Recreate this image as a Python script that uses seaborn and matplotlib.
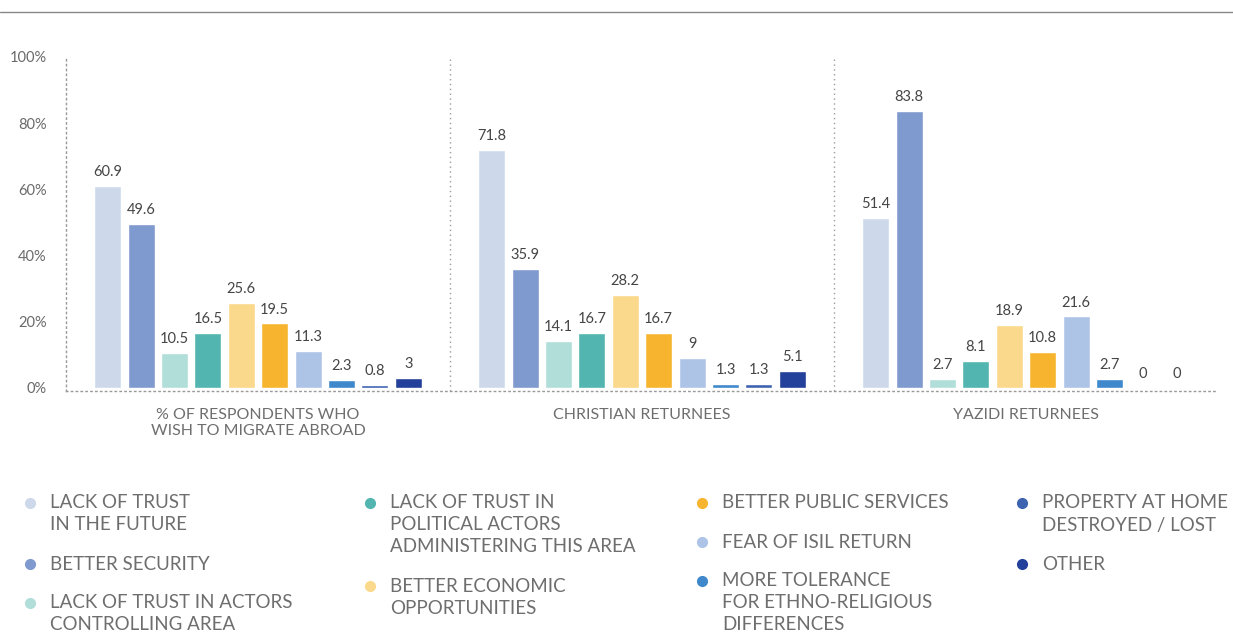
import matplotlib
matplotlib.use('Agg')
import matplotlib.pyplot as plt
from matplotlib.lines import Line2D
import seaborn as sns
import pandas as pd

groups = ['% OF RESPONDENTS WHO\nWISH TO MIGRATE ABROAD', 'CHRISTIAN RETURNEES', 'YAZIDI RETURNEES']
reasons = [
    'LACK OF TRUST\nIN THE FUTURE',
    'BETTER SECURITY',
    'LACK OF TRUST IN ACTORS\nCONTROLLING AREA',
    'LACK OF TRUST IN\nPOLITICAL ACTORS\nADMINISTERING THIS AREA',
    'BETTER ECONOMIC\nOPPORTUNITIES',
    'BETTER PUBLIC SERVICES',
    'FEAR OF ISIL RETURN',
    'MORE TOLERANCE\nFOR ETHNO-RELIGIOUS\nDIFFERENCES',
    'PROPERTY AT HOME\nDESTROYED / LOST',
    'OTHER',
]
all_respondents = [60.9, 49.6, 10.5, 16.5, 25.6, 19.5, 11.3, 2.3, 0.8, 3]
christian = [71.8, 35.9, 14.1, 16.7, 28.2, 16.7, 9, 1.3, 1.3, 5.1]
yazidi = [51.4, 83.8, 2.7, 8.1, 18.9, 10.8, 21.6, 2.7, 0, 0]
colors = ['#cdd9ea', '#7f9acf', '#b1ded9', '#52b5b0', '#fbd98c',
          '#f7b52f', '#adc4e6', '#3f88cb', '#3d62b0', '#23409a']
# legend column layout as in the report
legend_cols = [[0, 1, 2], [3, 4], [5, 6, 7], [8, 9]]

rows = []
for g, vals in zip(groups, [all_respondents, christian, yazidi]):
    for r, v in zip(reasons, vals):
        rows.append({'group': g, 'reason': r, 'value': v})
df = pd.DataFrame(rows)

sns.set_style('white')
plt.rcParams['font.family'] = ['Lato', 'DejaVu Sans']

W, H = 1233, 633
fig = plt.figure(figsize=(W / 100, H / 100), dpi=100)
ax = fig.add_axes([66 / W, 241.7 / H, 1152 / W, 334.3 / H])

sns.barplot(data=df, x='group', y='value', hue='reason', order=groups, hue_order=reasons,
            palette=colors, width=0.87, gap=0.19, saturation=1, legend=False, ax=ax)

for c in ax.containers:
    ax.bar_label(c, fmt='{:g}', padding=5, fontsize=10.5, color='#454545')

ax.set_xlim(-0.5, 2.5)
ax.set_ylim(-1, 100)
ax.set_yticks([0, 20, 40, 60, 80, 100])
ax.set_yticklabels(['0%', '20%', '40%', '60%', '80%', '100%'])
ax.tick_params(axis='y', length=0, pad=14, labelsize=10.5, labelcolor='#6a6a6a')
ax.tick_params(axis='x', length=0, pad=12, labelsize=11.5, labelcolor='#6e6e6e')
ax.set_xlabel('')
ax.set_ylabel('')

dots = (0, (1, 2.5))
for side in ['top', 'right']:
    ax.spines[side].set_visible(False)
for side in ['left', 'bottom']:
    ax.spines[side].set_linestyle(dots)
    ax.spines[side].set_color('#999999')
    ax.spines[side].set_linewidth(1)
ax.vlines([0.5, 1.5], -1, 100, linestyles=[dots], colors='#999999', linewidth=1)

# top rule
fig.add_artist(Line2D([0, 1], [1 - 12 / H, 1 - 12 / H], transform=fig.transFigure,
                      color='#888888', linewidth=1))

# legend drawn by hand so the bullet sits on the first line of each label
col_x = [30, 370, 702, 1022]
line_h, entry_gap, y0 = 22, 17, 503
for x, idxs in zip(col_x, legend_cols):
    y = y0
    for i in idxs:
        fig.add_artist(Line2D([x / W], [1 - y / H], transform=fig.transFigure, marker='o',
                              markersize=7, color=colors[i], linestyle=''))
        lines = reasons[i].split('\n')
        for k, line in enumerate(lines):
            fig.text((x + 20) / W, 1 - (y + k * line_h) / H, line, va='center', ha='left',
                     fontsize=13.5, color='#6e6e6e')
        y += len(lines) * line_h + entry_gap

fig.savefig('out.png', dpi=100)
